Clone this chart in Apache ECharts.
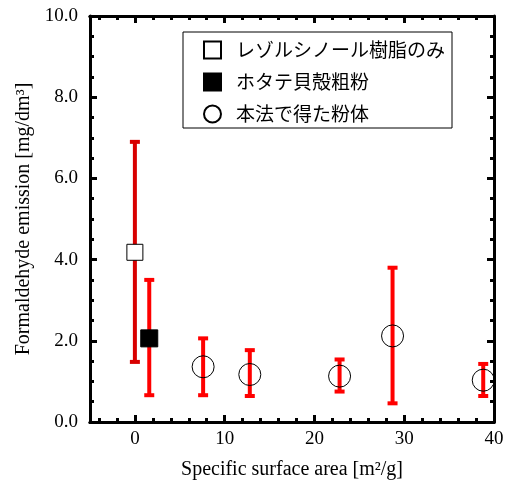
<!DOCTYPE html>
<html>
<head>
<meta charset="utf-8">
<script src="https://cdn.jsdelivr.net/npm/echarts@6/dist/echarts.min.js"></script>
<style>
html, body { margin: 0; padding: 0; background: #fff; }
#chart { width: 507px; height: 487px; }
</style>
</head>
<body>
<div id="chart"></div>
<script>
var seriesNames = ['レゾルシノール樹脂のみ', 'ホタテ貝殻粗粉', '本法で得た粉体'];

// [surface area, emission]
var resinOnly = [[0, 4.18]];
var shellPowder = [[1.6, 2.06]];
var newPowder = [[7.6, 1.36], [12.8, 1.17], [22.8, 1.13], [28.7, 2.12], [38.8, 1.03]];

// error bars: [x, low, high]
var resinErr = [[0, 1.48, 6.9]];
var shellErr = [[1.6, 0.66, 3.5]];
var powderErr = [[7.6, 0.66, 2.06], [12.8, 0.64, 1.77], [22.8, 0.75, 1.54], [28.7, 0.46, 3.8], [38.8, 0.64, 1.43]];

var xMajor = [0, 10, 20, 30, 40];
var xMinor = [-4, -2, 2, 4, 6, 8, 12, 14, 16, 18, 22, 24, 26, 28, 32, 34, 36, 38];
var yTicks = ['0.0', '2.0', '4.0', '6.0', '8.0', '10.0'];

var serif = '"Liberation Serif", "Times New Roman", serif';

var myChart = echarts.init(document.getElementById('chart'));

function errorBar(color) {
    return function (params, api) {
        var x = api.value(0);
        var lo = api.coord([x, api.value(1)]);
        var hi = api.coord([x, api.value(2)]);
        var half = 5;
        var style = { stroke: color, lineWidth: 4 };
        return {
            type: 'group',
            children: [
                { type: 'line', shape: { x1: lo[0], y1: lo[1], x2: hi[0], y2: hi[1] }, style: style },
                { type: 'line', shape: { x1: lo[0] - half, y1: lo[1], x2: lo[0] + half, y2: lo[1] }, style: style },
                { type: 'line', shape: { x1: hi[0] - half, y1: hi[1], x2: hi[0] + half, y2: hi[1] }, style: style }
            ]
        };
    };
}

var axisLine = { show: true, onZero: false, lineStyle: { color: '#000', width: 3 } };

function xAxisFor(position, ticks, len, showLabel) {
    return {
        type: 'value', min: -5, max: 40, position: position,
        axisLine: axisLine,
        axisTick: { inside: true, length: len, customValues: ticks, lineStyle: { width: 3, color: '#000' } },
        splitLine: { show: false },
        axisLabel: showLabel ? {
            margin: 8, fontFamily: serif, fontSize: 19, color: '#000', customValues: ticks
        } : { show: false }
    };
}

function yAxisFor(position, showLabel) {
    return {
        type: 'value', min: 0, max: 10, interval: 2, position: position,
        axisLine: axisLine,
        axisTick: { inside: true, length: 7, lineStyle: { width: 3, color: '#000' } },
        minorTick: { show: true, splitNumber: 4, length: 4, lineStyle: { width: 3, color: '#000' } },
        splitLine: { show: false },
        axisLabel: showLabel ? {
            margin: 12, fontFamily: serif, fontSize: 19, color: '#000',
            formatter: function (v) { return yTicks[Math.round(v / 2)]; }
        } : { show: false }
    };
}

var xBottom = xAxisFor('bottom', xMajor, 7, true);
xBottom.name = 'Specific surface area [m²/g]';
xBottom.nameLocation = 'middle';
xBottom.nameGap = 38;
xBottom.nameTextStyle = { fontFamily: serif, fontSize: 20, color: '#000' };

var yLeft = yAxisFor('left', true);
yLeft.name = 'Formaldehyde emission [mg/dm³]';
yLeft.nameLocation = 'middle';
yLeft.nameGap = 56;
yLeft.nameTextStyle = { fontFamily: serif, fontSize: 20, color: '#000' };

var option = {
    animation: false,
    grid: { left: 90, top: 16, right: 13, bottom: 65 },
    legend: {
        orient: 'vertical',
        left: 183,
        top: 32,
        data: seriesNames,
        borderColor: '#000',
        borderWidth: 1,
        padding: [7, 7, 3, 20],
        itemGap: 10,
        itemWidth: 17,
        itemHeight: 17,
        textStyle: {
            fontFamily: '"Noto Sans CJK JP", sans-serif', fontSize: 19, color: '#000',
            lineHeight: 22, padding: [0, 0, 0, 10]
        }
    },
    xAxis: [
        xBottom,
        xAxisFor('bottom', xMinor, 4, false),
        xAxisFor('top', xMajor, 7, false),
        xAxisFor('top', xMinor, 4, false)
    ],
    yAxis: [yLeft, yAxisFor('right', false)],
    series: [
        { type: 'custom', renderItem: errorBar('#d80000'), data: resinErr, z: 1, silent: true },
        { type: 'custom', renderItem: errorBar('#ff0000'), data: shellErr, z: 1, silent: true },
        { type: 'custom', renderItem: errorBar('#ff0000'), data: powderErr, z: 1, silent: true },
        {
            name: seriesNames[0], type: 'scatter', symbol: 'rect', symbolSize: 16, z: 3,
            itemStyle: { color: '#fff', borderColor: '#000', borderWidth: 1, opacity: 1 },
            data: resinOnly
        },
        {
            name: seriesNames[1], type: 'scatter', symbol: 'rect', symbolSize: 17, z: 3,
            itemStyle: { color: '#000', borderColor: '#000', borderWidth: 1, opacity: 1 },
            data: shellPowder
        },
        {
            name: seriesNames[2], type: 'scatter', symbol: 'circle', symbolSize: 22, z: 3,
            itemStyle: { color: 'rgba(255,255,255,0)', borderColor: '#000', borderWidth: 1, opacity: 1 },
            data: newPowder
        }
    ]
};

myChart.setOption(option);
</script>
</body>
</html>
